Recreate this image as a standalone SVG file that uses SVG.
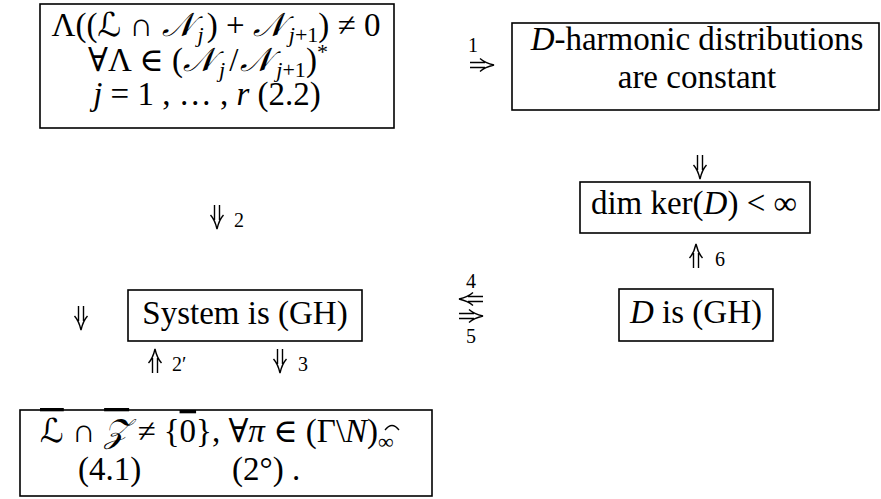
<svg xmlns="http://www.w3.org/2000/svg" width="881" height="499" viewBox="0 0 881 499">
<style>
text{font-family:"Liberation Serif","DejaVu Serif",serif;font-size:33px;fill:#000}
.i{font-style:italic}
.s{font-size:22px}
.lbl{font-size:20px}
.scr{font-family:"DejaVu Serif","DejaVu Sans",serif;font-style:italic}
.box{fill:none;stroke:#000;stroke-width:1.6}
.arr{fill:none;stroke:#000;stroke-width:1.4}
</style>
<defs>
<g id="dn"><path d="M-2.5,0V15M2.5,0V15M-6.5,10Q-2,15 0,24Q2,15 6.5,10"/></g>
</defs>
<g id="n1">
<rect class="box" x="40" y="4" width="354" height="124"/>
<text x="216" y="36" text-anchor="middle">Λ((<tspan class="scr">ℒ</tspan> ∩ <tspan class="scr">𝒩</tspan><tspan class="i s" dx="4" dy="6">j</tspan><tspan dx="3" dy="-6">) + </tspan><tspan class="scr">𝒩</tspan><tspan class="i s" dx="4" dy="6">j</tspan><tspan class="s">+1</tspan><tspan dy="-6">) ≠ 0</tspan></text>
<text x="208" y="71" text-anchor="middle">∀Λ ∈ (<tspan class="scr">𝒩</tspan><tspan class="i s" dx="4" dy="6">j</tspan><tspan dx="4" dy="-6">/</tspan><tspan class="scr" dx="2">𝒩</tspan><tspan class="i s" dx="4" dy="6">j</tspan><tspan class="s">+1</tspan><tspan dy="-6">)</tspan><tspan class="s" dy="-12">*</tspan></text>
<text x="207" y="105" text-anchor="middle"><tspan class="i">j</tspan> = 1 , … , <tspan class="i">r</tspan> (2.2)</text>
</g>
<g id="n2">
<rect class="box" x="512" y="23" width="367" height="87"/>
<text x="697" y="50" text-anchor="middle"><tspan class="i">D</tspan>-harmonic distributions</text>
<text x="697" y="88" text-anchor="middle">are constant</text>
</g>
<g id="n3">
<rect class="box" x="580" y="182" width="230" height="51"/>
<text x="694" y="214" text-anchor="middle">dim ker(<tspan class="i">D</tspan>) &lt; ∞</text>
</g>
<g id="n4">
<rect class="box" x="128" y="290" width="234" height="51"/>
<text x="245" y="324" text-anchor="middle">System is (GH)</text>
</g>
<g id="n5">
<rect class="box" x="619" y="289" width="154" height="52"/>
<text x="696" y="323" text-anchor="middle"><tspan class="i">D</tspan> is (GH)</text>
</g>
<g id="n6">
<rect class="box" x="20" y="410" width="412" height="86"/>
<text x="40" y="442"><tspan class="scr" text-decoration="overline">ℒ</tspan> ∩ <tspan class="scr" text-decoration="overline">𝒵</tspan> ≠ {<tspan text-decoration="overline">0</tspan>},  ∀<tspan class="i">π</tspan> ∈ (Γ\<tspan class="i">N</tspan>)<tspan class="s" dy="7">∞</tspan></text>
<path d="M385,430 Q392,421 399,430" fill="none" stroke="#000" stroke-width="1.3"/>
<text x="78" y="480">(4.1)</text>
<text x="232" y="480">(2°) .</text>
</g>
<g id="connectors" class="arr">
<use href="#dn" transform="translate(470,65) rotate(-90)"/>
<text x="468" y="52" class="lbl" stroke="none">1</text>
<use href="#dn" x="700" y="155"/>
<use href="#dn" transform="translate(696,268) rotate(180)"/>
<text x="715" y="266" class="lbl" stroke="none">6</text>
<use href="#dn" x="217" y="205"/>
<text x="234" y="227" class="lbl" stroke="none">2</text>
<use href="#dn" x="81" y="306"/>
<use href="#dn" transform="translate(155,373) rotate(180)"/>
<text x="172" y="371" class="lbl" stroke="none">2′</text>
<use href="#dn" x="280" y="349"/>
<text x="298" y="371" class="lbl" stroke="none">3</text>
<text x="466" y="288" class="lbl" stroke="none">4</text>
<use href="#dn" transform="translate(483,299) rotate(90)"/>
<use href="#dn" transform="translate(459,316) rotate(-90)"/>
<text x="466" y="343" class="lbl" stroke="none">5</text>
</g>
</svg>
